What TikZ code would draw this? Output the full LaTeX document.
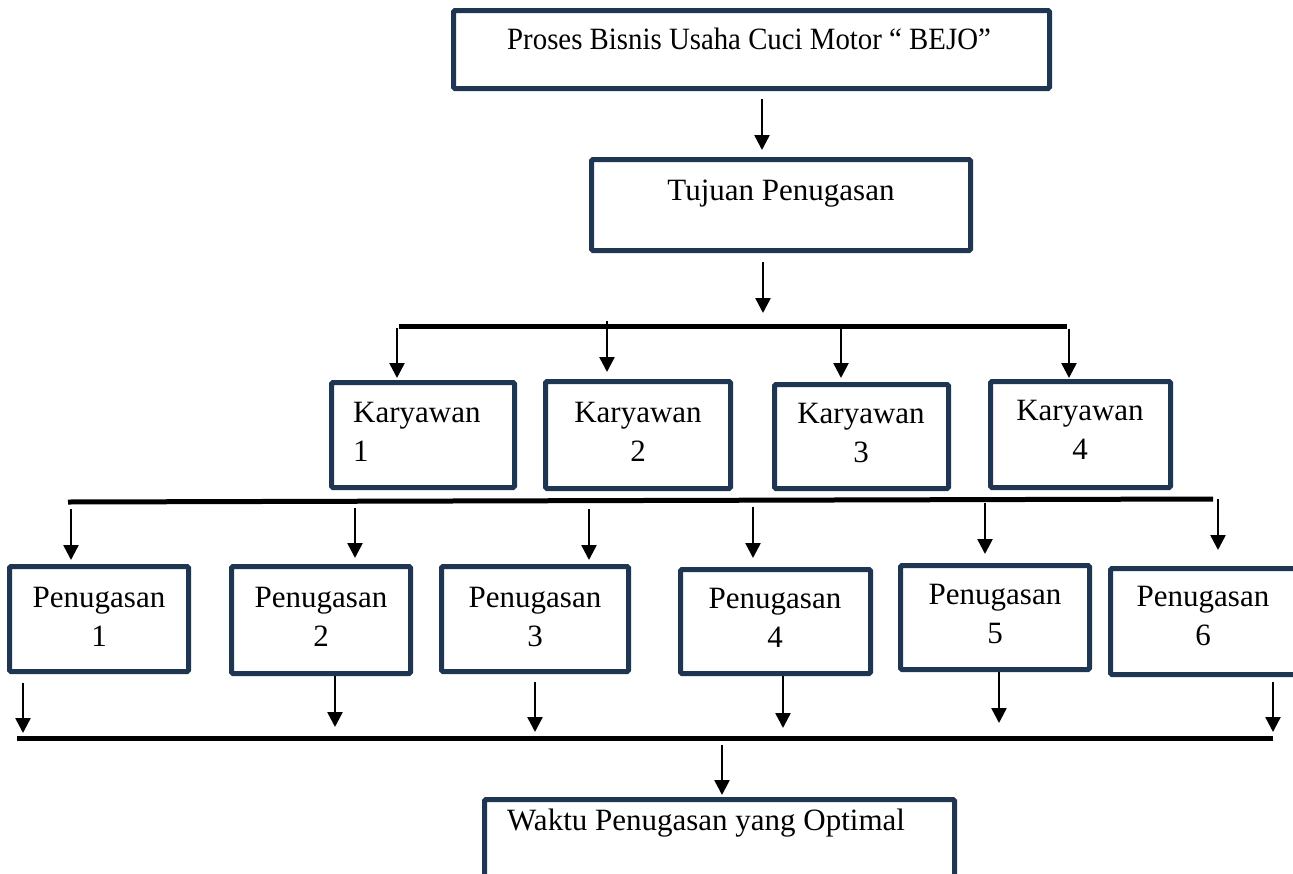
\documentclass[tikz,border=0pt]{standalone}
\usepackage{fontspec}
\setmainfont{Liberation Serif}
\usetikzlibrary{arrows.meta}
\definecolor{navy}{HTML}{1F3653}
\begin{document}
\begin{tikzpicture}[x=1pt,y=-1pt,
  box/.style={draw=navy, line width=5pt, rounded corners=1.5pt, inner sep=0pt, outer sep=auto, fill=white},
  txt/.style={font=\fontsize{31}{39}\selectfont, inner sep=0pt, text=black},
  arr/.style={line width=2.5pt, -{Triangle[length=15pt,width=15pt]}},
  bus/.style={line width=5pt}]
\useasboundingbox (0,0) rectangle (1293,873);
\clip (0,0) rectangle (1293,873);
% boxes
\node[box, minimum width=596pt, minimum height=78pt] (top) at (751.5,49.5) {};
\node[box, minimum width=379pt, minimum height=91pt] (tuj) at (781,205) {};
\node[box, minimum width=183pt, minimum height=105pt] (k1) at (423,435) {};
\node[box, minimum width=185pt, minimum height=107pt] (k2) at (638,435) {};
\node[box, minimum width=174pt, minimum height=104pt] (k3) at (861.5,436.5) {};
\node[box, minimum width=180pt, minimum height=106pt] (k4) at (1080.5,434.5) {};
\node[box, minimum width=179pt, minimum height=105pt] (p1) at (99,619) {};
\node[box, minimum width=179pt, minimum height=107pt] (p2) at (321,620) {};
\node[box, minimum width=187pt, minimum height=105pt] (p3) at (535,619) {};
\node[box, minimum width=190pt, minimum height=104pt] (p4) at (775.5,621.5) {};
\node[box, minimum width=189pt, minimum height=104pt] (p5) at (995,617.5) {};
\node[box, minimum width=197pt, minimum height=106pt] (p6) at (1209,621.5) {};
\node[box, minimum width=470pt, minimum height=103pt] (wak) at (719.5,851) {};
% texts
\node[txt, anchor=base west] (ttop) at (507,49) {\scalebox{0.93}[1]{Proses Bisnis Usaha Cuci Motor “ BEJO”}};
\node[txt, anchor=base] (ttuj) at (781,200) {Tujuan Penugasan};
\node[txt, anchor=north west, align=left] (tk1) at (353,401.5) {Karyawan\\1};
\node[txt, anchor=north, align=center] (tk2) at (638,401.5) {Karyawan\\2};
\node[txt, anchor=north, align=center] (tk3) at (861,402.5) {Karyawan\\3};
\node[txt, anchor=north, align=center] (tk4) at (1080,399.5) {Karyawan\\4};
\node[txt, anchor=north, align=center] (tp1) at (99,586.5) {Penugasan\\1};
\node[txt, anchor=north, align=center] (tp2) at (321,586.5) {Penugasan\\2};
\node[txt, anchor=north, align=center] (tp3) at (535,586.5) {Penugasan\\3};
\node[txt, anchor=north, align=center] (tp4) at (775,587.5) {Penugasan\\4};
\node[txt, anchor=north, align=center] (tp5) at (995,583.5) {Penugasan\\5};
\node[txt, anchor=north, align=center] (tp6) at (1203,585.5) {Penugasan\\6};
\node[txt, anchor=base west] (twak) at (507,830) {Waktu Penugasan yang Optimal};
% bus lines
\coordinate (b1l) at (399,326); \coordinate (b1r) at (1067,326);
\coordinate (b2l) at (68,502);  \coordinate (b2r) at (1213,499);
\coordinate (b3l) at (17,738);  \coordinate (b3r) at (1273,738);
\draw[bus] (b1l) -- (b1r);
\draw[bus] (b2l) -- (b2r);
\draw[bus] (b3l) -- (b3r);
% arrow start coordinates
\coordinate (a0) at (762,99);
\coordinate (a1) at (763,262);
\coordinate (ak1) at (397,328);
\coordinate (ak2) at (607,321);
\coordinate (ak3) at (841,328);
\coordinate (ak4) at (1069,329);
\coordinate (ap1) at (71,509);
\coordinate (ap2) at (355,508);
\coordinate (ap3) at (589,509);
\coordinate (ap4) at (753,507);
\coordinate (ap5) at (985,503);
\coordinate (ap6) at (1218,499);
\coordinate (aw) at (722,745);
% arrows
\draw[arr, shorten >=7pt] (a0) -- (a0 |- tuj.north);
\draw[arr] (a1) -- (763,313);
\draw[arr, shorten >=2pt] (ak1) -- (ak1 |- k1.north);
\draw[arr, shorten >=7pt] (ak2) -- (ak2 |- k2.north);
\draw[arr, shorten >=4pt] (ak3) -- (ak3 |- k3.north);
\draw[arr, shorten >=1pt] (ak4) -- (ak4 |- k4.north);
\draw[arr, shorten >=4pt] (ap1) -- (ap1 |- p1.north);
\draw[arr, shorten >=6pt] (ap2) -- (ap2 |- p2.north);
\draw[arr, shorten >=4pt] (ap3) -- (ap3 |- p3.north);
\draw[arr, shorten >=9pt] (ap4) -- (ap4 |- p4.north);
\draw[arr, shorten >=9pt] (ap5) -- (ap5 |- p5.north);
\draw[arr, shorten >=16pt] (ap6) -- (ap6 |- p6.north);
\coordinate (ep1) at (23,733);
\coordinate (ep2) at (335,727);
\coordinate (ep3) at (535,732);
\coordinate (ep4) at (783,728);
\coordinate (ep5) at (999,723);
\coordinate (ep6) at (1273,732);
\draw[arr] (23,683) -- (ep1);
\draw[arr] (ep2 |- p2.south) -- (ep2);
\draw[arr] (535,682) -- (ep3);
\draw[arr] (ep4 |- p4.south) -- (ep4);
\draw[arr] (ep5 |- p5.south) -- (ep5);
\draw[arr] (1273,682) -- (ep6);
\draw[arr, shorten >=2pt] (aw) -- (aw |- wak.north);
\end{tikzpicture}
\end{document}
